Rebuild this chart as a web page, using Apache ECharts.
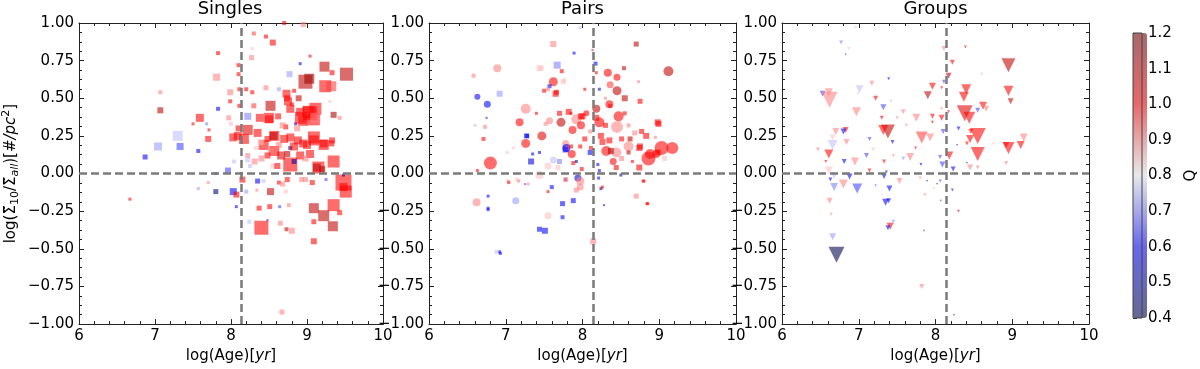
<!DOCTYPE html>
<html>
<head>
<meta charset="utf-8">
<script src="https://cdn.jsdelivr.net/npm/echarts@6/dist/echarts.min.js"></script>
<style>
html,body{margin:0;padding:0;background:#fff}
#chart{width:1200px;height:369px}
</style>
</head>
<body>
<div id="chart"></div>
<script>
// each point: [log(Age), log(Sigma10/Sigma_all), marker size, Q]
var singles = [
  [8.70,1.00,4,1.0],[8.95,0.99,5,0.9],[8.30,0.93,4,0.95],[8.46,0.91,4,1.0],[8.55,0.87,6,1.0],
  [7.83,0.80,4,1.0],[8.28,0.83,3,0.85],[8.27,0.77,5,0.9],[9.04,0.78,3,1.0],[8.91,0.73,3,0.6],
  [8.10,0.72,4,1.0],[9.23,0.71,10,1.1],[9.33,0.67,5,1.0],[9.52,0.66,13,1.1],[8.77,0.66,6,0.72],
  [7.81,0.64,7,0.9],[8.10,0.66,4,1.0],[8.98,0.61,14,1.1],[9.03,0.63,10,1.15],[9.24,0.58,12,1.0],
  [9.32,0.58,10,0.95],[8.20,0.56,4,1.0],[8.28,0.54,4,1.0],[8.46,0.57,5,0.9],[8.63,0.56,4,0.72],
  [8.73,0.53,8,1.0],[8.83,0.55,4,1.0],[7.99,0.54,6,0.9],[8.11,0.56,4,1.0],[7.07,0.54,4,0.9],
  [7.07,0.42,6,1.1],[8.89,0.50,6,1.1],[8.75,0.48,8,1.0],[8.52,0.45,10,1.1],[7.99,0.48,4,1.0],
  [8.11,0.45,4,1.0],[7.83,0.43,4,0.6],[8.22,0.38,7,0.7],[8.80,0.46,4,1.0],[9.11,0.43,12,1.0],
  [9.04,0.40,14,1.0],[8.91,0.41,8,1.0],[9.35,0.39,6,1.15],[9.43,0.37,4,0.9],[9.30,0.48,3,0.85],
  [7.59,0.37,8,1.0],[7.97,0.37,5,0.9],[8.38,0.37,8,1.0],[8.50,0.36,8,1.0],[9.09,0.36,12,1.0],
  [7.50,0.33,3,1.0],[7.68,0.33,3,0.7],[8.00,0.33,4,0.85],[8.72,0.31,5,1.0],[8.85,0.33,3,0.6],
  [8.22,0.29,10,1.05],[8.35,0.27,8,1.0],[8.57,0.25,10,1.0],[8.70,0.23,8,1.0],[7.30,0.25,10,0.75],
  [7.70,0.23,6,1.0],[7.71,0.29,3,1.0],[8.03,0.24,8,1.0],[8.17,0.23,10,1.0],[8.43,0.19,10,1.0],
  [8.48,0.23,6,1.0],[9.09,0.22,10,1.0],[9.22,0.19,10,1.0],[9.32,0.20,6,1.0],[7.04,0.18,8,0.72],
  [7.33,0.18,7,0.65],[7.57,0.15,4,0.6],[6.87,0.11,5,0.6],[8.22,0.12,5,0.9],[8.33,0.17,4,0.85],
  [8.57,0.15,10,1.0],[8.78,0.17,4,0.45],[8.78,0.06,14,1.0],[8.83,0.08,5,0.5],[8.91,0.12,8,1.0],
  [9.04,0.13,8,1.0],[9.15,0.04,12,1.0],[9.20,0.03,6,1.1],[9.35,0.08,12,1.0],[8.04,0.08,4,0.75],
  [7.96,0.02,6,0.65],[7.80,0.00,3,0.6],[8.15,-0.04,6,1.0],[8.35,-0.05,5,0.6],[8.43,-0.05,4,0.75],
  [8.63,-0.06,4,1.0],[8.74,-0.04,5,1.0],[8.93,-0.04,5,0.9],[9.48,-0.06,16,1.0],[9.48,-0.09,8,1.0],
  [9.51,-0.12,12,1.0],[9.48,-0.01,3,0.5],[7.70,-0.06,3,0.9],[7.57,-0.10,3,0.72],[7.80,-0.12,5,0.45],
  [8.03,-0.12,7,0.6],[8.07,-0.14,6,1.0],[8.20,-0.12,4,0.72],[8.34,-0.11,3,0.9],[8.52,-0.12,7,1.1],
  [8.72,-0.12,4,0.85],[6.67,-0.17,3,1.0],[8.07,-0.22,3,0.6],[8.37,-0.23,5,1.0],[8.51,-0.22,5,1.0],
  [8.64,-0.22,3,0.65],[8.76,-0.21,4,0.9],[9.09,-0.23,10,1.1],[9.22,-0.28,11,1.1],[9.35,-0.21,12,1.0],
  [9.43,-0.26,5,1.0],[9.09,-0.32,5,1.0],[9.34,-0.35,10,1.1],[8.40,-0.36,14,1.0],[8.24,-0.32,4,0.75],
  [8.65,-0.33,5,0.9],[8.73,-0.37,4,1.1],[8.80,-0.38,6,0.9],[9.09,-0.45,6,1.0],[8.67,-0.92,5,0.9],
  [8.48,-0.31,2,0.55],[8.62,0.38,6,1.0],[8.95,0.35,10,1.0],[8.88,0.22,8,1.0],[8.66,0.12,8,1.05],
  [8.40,0.10,6,0.9],[8.55,0.05,5,0.85],[8.25,0.05,4,0.75],[8.10,0.30,6,1.0],[8.30,0.45,5,0.95],
  [8.95,0.20,8,1.0],[8.09,0.25,8,1.0],[8.50,0.37,10,1.0],[8.56,0.25,8,1.1],[8.68,0.32,6,0.9],
  [8.74,0.50,6,1.0],[8.78,0.43,8,1.0],[8.92,0.37,12,1.0],[9.02,0.41,12,1.0],[9.11,0.37,10,0.9],
  [8.87,0.30,6,0.9],[8.78,0.24,8,1.0],[8.83,0.18,8,1.0],[8.74,0.13,6,1.1],[9.00,0.19,8,1.0],
  [9.09,0.24,12,1.0],[9.22,0.20,8,1.0],[9.33,0.22,6,1.0],[9.13,0.04,8,1.1],[8.98,0.10,6,0.9],
  [8.39,0.21,6,0.85],[8.63,0.19,6,0.9],[8.52,0.15,6,0.9],[8.31,0.08,6,0.9],[8.22,0.09,5,0.75],
  [8.48,0.12,6,1.0],[8.61,0.05,6,1.0],[8.68,-0.07,5,0.9],[8.98,-0.04,5,0.9],[9.07,-0.06,5,1.0],
  [9.25,-0.04,3,0.65]
];

var pairsCircles = [
  [6.89,0.70,8,0.9],[8.33,0.67,8,1.0],[8.45,0.64,7,1.0],[9.12,0.68,10,1.1],[7.62,0.61,9,1.0],
  [8.36,0.59,7,0.95],[8.45,0.55,9,1.1],[6.63,0.51,6,0.6],[6.76,0.46,7,0.6],[7.26,0.43,10,0.9],
  [7.18,0.34,8,1.0],[8.18,0.43,8,1.1],[8.22,0.34,10,1.0],[7.72,0.34,9,1.1],[7.57,0.35,7,0.9],
  [7.92,0.36,10,0.9],[7.98,0.32,8,1.0],[7.87,0.29,8,1.0],[8.47,0.38,10,1.0],[8.45,0.31,12,0.9],
  [7.47,0.25,9,1.05],[7.26,0.20,9,1.0],[8.31,0.15,10,1.0],[8.44,0.14,10,0.9],[8.60,0.18,10,0.9],
  [9.03,0.17,14,1.0],[9.17,0.17,12,1.0],[8.86,0.10,14,1.0],[8.96,0.13,8,1.0],[6.80,0.07,13,1.0],
  [7.62,0.09,7,0.75],[8.40,0.08,7,1.0],[7.94,-0.03,7,0.55],[7.44,-0.01,8,0.85],[6.62,-0.19,8,0.9],
  [7.13,-0.18,7,0.72],[7.97,-0.09,7,0.9],[7.55,-0.28,7,0.85],[7.78,0.20,7,0.9],[8.05,0.40,6,1.0],
  [8.35,0.46,8,1.0],[7.79,0.17,8,0.6],[7.86,0.13,8,1.0],[7.97,-0.05,8,0.9],[7.55,0.05,7,0.85],
  [8.88,0.13,10,1.0]
];

var pairsSquares = [
  [7.97,0.97,3,0.75],[7.62,0.86,6,0.9],[8.70,0.86,5,1.1],[7.89,0.80,3,0.6],[8.13,0.82,2,1.0],
  [6.58,0.65,4,0.9],[7.44,0.70,6,0.85],[7.67,0.72,7,0.7],[7.73,0.68,4,1.0],[8.17,0.73,4,0.6],
  [8.18,0.67,3,1.0],[8.54,0.70,4,1.1],[7.57,0.58,4,0.6],[7.75,0.61,5,0.85],[8.03,0.56,3,1.0],
  [8.22,0.56,3,0.6],[8.73,0.61,3,0.9],[6.92,0.53,6,0.72],[7.50,0.55,4,1.0],[7.65,0.53,6,1.0],
  [8.55,0.50,6,1.1],[8.75,0.48,5,1.0],[6.75,0.37,2,0.6],[7.40,0.40,3,1.0],[7.70,0.40,5,1.0],
  [7.85,0.40,3,1.0],[8.00,0.38,6,1.0],[8.36,0.45,4,1.0],[8.99,0.33,6,1.0],[8.77,0.28,5,1.0],
  [8.68,0.27,5,0.9],[6.73,0.31,4,0.9],[6.71,0.23,4,1.0],[7.27,0.25,5,0.6],[8.03,0.23,5,1.0],
  [8.24,0.25,6,1.0],[8.51,0.23,5,1.0],[8.62,0.23,5,1.1],[8.83,0.25,6,1.0],[8.95,0.24,3,0.9],
  [7.80,0.17,4,0.9],[7.85,0.18,4,1.0],[7.78,0.16,6,0.6],[7.44,0.14,3,0.6],[7.97,0.18,4,1.0],
  [8.11,0.17,4,1.0],[8.74,0.17,6,1.0],[9.07,0.10,5,0.85],[7.33,0.08,6,0.55],[7.70,0.08,5,0.7],
  [7.88,0.07,4,1.0],[7.99,0.03,4,1.0],[8.20,0.06,3,0.6],[8.44,0.04,5,1.0],[8.74,0.04,6,1.0],
  [8.50,-0.01,3,0.5],[8.22,0.02,3,0.6],[7.78,-0.04,3,0.5],[6.63,0.02,3,1.0],[6.77,-0.15,3,0.6],
  [7.60,-0.09,4,0.6],[7.74,-0.20,5,0.6],[7.88,-0.18,5,0.6],[7.92,-0.11,5,0.9],[8.24,-0.10,3,0.5],
  [8.26,-0.09,3,1.0],[8.80,-0.05,3,1.0],[8.70,-0.15,5,0.9],[8.85,-0.20,3,1.0],[8.28,-0.21,2,0.6],
  [6.77,-0.23,3,0.6],[7.74,-0.29,4,0.6],[7.44,-0.37,5,0.6],[7.51,-0.38,6,0.6],[8.14,-0.45,6,0.9],
  [6.92,-0.52,3,0.6],[6.88,-0.52,4,0.75],[7.03,-0.05,3,0.9],[7.15,-0.04,4,0.85],[7.25,-0.07,2,0.65],
  [7.35,0.13,3,0.6],[7.10,0.17,3,0.85],[6.60,0.32,3,0.75],[7.92,0.08,3,0.5],[8.10,0.28,4,0.9],
  [8.30,0.32,5,1.0],[8.55,0.40,4,1.0],[8.65,0.08,3,1.0],[8.60,0.14,4,1.1],[8.35,0.22,6,1.0],
  [7.66,0.54,5,1.0],[7.55,0.56,4,0.9],[7.82,0.41,6,1.0],[7.98,0.38,6,1.0],[8.18,0.37,6,1.0],
  [8.98,0.34,6,1.0],[8.10,0.14,5,0.6],[8.26,0.21,6,1.0],[8.37,0.15,6,1.1],[8.51,0.10,5,0.9],
  [8.75,0.18,6,1.0],[8.98,0.14,6,1.0],[7.68,0.04,5,0.85],[7.78,-0.04,5,0.9],[8.21,-0.03,3,0.6],
  [7.29,-0.07,3,0.9],[7.17,-0.05,3,0.9],[7.04,-0.06,3,1.0],[7.55,-0.12,3,1.0],[6.77,-0.24,3,0.6],
  [6.93,-0.53,3,0.6],[8.79,-0.05,3,1.0],[8.84,-0.20,3,1.0],[7.46,0.70,5,0.85],[7.76,0.62,4,0.85],
  [7.52,0.33,4,0.9],[7.28,0.25,4,0.6],[7.02,0.14,3,0.85],[8.30,0.50,3,0.9],[8.60,0.32,4,0.9]
];

var groups = [
  [6.96,0.97,3,0.85],[6.77,0.87,4,0.7],[6.87,0.83,3,0.85],[6.83,0.79,2,0.6],[8.11,0.83,5,0.9],
  [8.39,0.84,3,1.0],[8.22,0.74,5,1.0],[8.95,0.72,14,1.1],[8.17,0.65,6,1.1],[7.39,0.63,3,0.6],
  [8.11,0.61,4,0.65],[7.17,0.60,5,0.9],[7.96,0.58,7,1.0],[8.08,0.57,3,1.0],[8.40,0.56,10,1.0],
  [8.95,0.55,10,1.0],[7.90,0.52,8,1.1],[8.37,0.51,10,1.0],[8.98,0.48,6,1.1],[6.53,0.53,6,0.65],
  [6.62,0.49,16,0.9],[6.61,0.54,8,0.9],[7.01,0.56,8,0.75],[7.22,0.50,5,1.0],[7.42,0.48,3,0.75],
  [7.32,0.44,6,0.65],[6.97,0.41,9,0.9],[7.58,0.41,5,0.9],[7.75,0.37,8,0.9],[7.96,0.38,5,1.0],
  [8.08,0.37,6,1.0],[8.08,0.43,3,0.9],[8.17,0.41,3,1.0],[8.38,0.40,16,1.05],[8.44,0.37,12,1.0],
  [8.62,0.45,8,1.0],[8.55,0.42,5,0.65],[8.66,0.43,6,0.9],[7.30,0.37,4,1.0],[7.96,0.34,3,1.1],
  [8.10,0.28,5,0.65],[8.30,0.30,4,0.6],[7.38,0.28,14,1.1],[7.32,0.29,10,1.0],[6.83,0.29,6,1.0],
  [6.80,0.28,6,0.6],[6.70,0.28,7,0.9],[6.84,0.21,6,0.9],[6.66,0.24,6,0.85],[7.14,0.23,4,0.65],
  [7.44,0.21,4,0.6],[7.82,0.24,12,0.95],[7.93,0.24,8,0.9],[7.62,0.32,3,0.9],[8.46,0.28,5,1.0],
  [8.55,0.25,16,1.0],[8.45,0.23,8,1.0],[8.41,0.20,4,1.0],[8.28,0.19,2,0.6],[8.95,0.17,12,1.0],
  [8.92,0.19,6,1.0],[9.11,0.19,8,1.0],[9.15,0.24,8,0.9],[8.76,0.20,3,0.85],[6.66,0.19,10,0.75],
  [6.61,0.13,9,1.0],[6.47,0.16,4,0.9],[6.57,0.08,3,1.0],[7.10,0.12,5,0.65],[7.19,0.16,4,0.85],
  [6.95,0.08,8,0.9],[6.81,0.08,5,0.6],[7.33,0.08,4,1.0],[7.45,0.12,3,0.9],[7.58,0.10,4,0.72],
  [7.67,0.11,8,0.9],[7.74,0.17,3,1.0],[7.81,0.06,3,0.6],[8.06,0.11,4,0.65],[8.09,0.06,6,0.65],
  [8.18,0.12,8,1.0],[8.23,0.03,5,0.6],[8.55,0.13,14,1.0],[8.45,0.04,6,0.9],[8.55,0.04,4,0.9],
  [8.41,0.07,2,0.6],[8.92,0.07,4,0.9],[6.61,0.02,8,0.85],[6.68,-0.02,5,0.75],[6.63,-0.04,4,0.6],
  [6.68,-0.09,8,0.7],[6.80,-0.07,9,0.9],[6.88,-0.02,6,0.6],[6.98,-0.10,10,0.65],[7.14,0.02,4,1.0],
  [7.33,-0.02,5,0.6],[7.36,0.01,3,0.6],[7.40,-0.10,6,0.6],[7.53,-0.05,6,0.9],[7.35,-0.19,7,0.6],
  [7.39,-0.18,5,0.6],[7.22,-0.08,2,0.6],[7.30,-0.14,2,0.85],[6.62,-0.18,6,0.9],[6.64,-0.27,3,0.9],
  [7.45,-0.32,4,0.72],[7.41,-0.35,7,1.0],[7.38,-0.36,5,0.6],[6.66,-0.42,7,0.72],[6.71,-0.54,16,0.4],
  [7.82,-0.75,5,0.9],[7.85,-0.38,2,0.6],[7.89,-0.05,2,0.6],[8.02,-0.07,2,0.6],[8.07,-0.18,2,0.6],
  [8.22,-0.11,3,0.6],[8.30,-0.25,3,1.0],[8.24,-0.94,2,0.6],[7.80,-0.03,3,0.9],[7.86,-0.14,3,0.9],
  [7.98,-0.10,2,0.9],[8.06,-0.05,3,0.65],[6.99,0.53,3,0.85],[7.50,0.37,3,0.9],[8.60,0.66,3,0.75]
];

var panelTitles = ['Singles', 'Pairs', 'Groups'];
var xRange = [6, 10];
var yRange = [-1, 1];
var qRange = [0.4, 1.2];
var ageCut = 8.14;

var FONT = 'DejaVu Sans';
var INK = '#222';
// seismic colormap stops
var seismicPts = 'rgba(0,0,77,A)|rgba(0,0,255,A)|rgba(255,255,255,A)|rgba(255,0,0,A)|rgba(128,0,0,A)';
function cmap(a) { return seismicPts.replace(/A/g, a).split('|'); }

var grids = [
  {left: 77, top: 23, width: 306, height: 306},
  {left: 429, top: 23, width: 307, height: 306},
  {left: 782, top: 23, width: 307, height: 306},
  {left: 1133, top: 33, width: 14, height: 285, show: true, z: 10,
   borderColor: '#444', borderWidth: 1, backgroundColor: 'transparent'}
];

function fmtY(v) {
  return (v < 0 ? '\u2212' : '') + Math.abs(v).toFixed(2);
}

var xAxes = [], yAxes = [];
for (var g = 0; g < 3; g++) {
  var line = {show: true, onZero: false, lineStyle: {color: INK, width: 1}};
  var tick = {show: true, inside: true, length: 5, lineStyle: {color: INK}};
  xAxes.push({
    gridIndex: g, type: 'value', min: xRange[0], max: xRange[1], interval: 1, position: 'bottom',
    name: '{a|log(Age)[}{i|yr}{a|]}', nameLocation: 'middle', nameGap: 24,
    nameTextStyle: {rich: {a: {fontFamily: FONT, fontSize: 15, color: '#000'},
                           i: {fontFamily: FONT, fontSize: 15, fontStyle: 'italic', color: '#000'}}},
    axisLine: line, axisTick: tick,
    minorTick: {show: true, splitNumber: 5, length: 3, lineStyle: {color: INK}},
    axisLabel: {fontFamily: FONT, fontSize: 15, color: '#000', margin: 5},
    splitLine: {show: false}
  });
  xAxes.push({
    gridIndex: g, type: 'value', min: xRange[0], max: xRange[1], interval: 1, position: 'top',
    axisLine: line, axisTick: tick,
    minorTick: {show: true, splitNumber: 5, length: 3, lineStyle: {color: INK}},
    axisLabel: {show: false}, splitLine: {show: false}
  });
  var yl = {
    gridIndex: g, type: 'value', min: yRange[0], max: yRange[1], interval: 0.25, position: 'left',
    axisLine: line, axisTick: tick,
    minorTick: {show: true, splitNumber: 4, length: 3, lineStyle: {color: INK}},
    axisLabel: {fontFamily: FONT, fontSize: 15, color: '#000', margin: 5, formatter: fmtY},
    splitLine: {show: false}
  };
  if (g === 0) {
    yl.name = '{n|log(\u03A3\u0303}{s|10}{n|/\u03A3\u0303}{si|all}{n|)[}{i|#/pc}{sup|2}{n|]}';
    yl.nameLocation = 'middle';
    yl.nameRotate = 90;
    yl.nameGap = 58;
    yl.nameTextStyle = {rich: {
      n: {fontFamily: FONT, fontSize: 15, color: '#000', lineHeight: 20},
      i: {fontFamily: FONT, fontSize: 15, fontStyle: 'italic', color: '#000', lineHeight: 20},
      s: {fontFamily: FONT, fontSize: 11, color: '#000', verticalAlign: 'bottom', lineHeight: 11},
      si: {fontFamily: FONT, fontSize: 11, fontStyle: 'italic', color: '#000', verticalAlign: 'bottom', lineHeight: 11},
      sup: {fontFamily: FONT, fontSize: 11, color: '#000', verticalAlign: 'top', lineHeight: 11}
    }};
  }
  yAxes.push(yl);
  yAxes.push({
    gridIndex: g, type: 'value', min: yRange[0], max: yRange[1], interval: 0.25, position: 'right',
    axisLine: line, axisTick: tick,
    minorTick: {show: true, splitNumber: 4, length: 3, lineStyle: {color: INK}},
    axisLabel: {show: false}, splitLine: {show: false}
  });
}
// colorbar axes
xAxes.push({gridIndex: 3, type: 'value', min: 0, max: 1, show: false});
yAxes.push({
  gridIndex: 3, type: 'value', min: qRange[0], max: qRange[1], interval: 0.1, position: 'right',
  name: 'Q', nameLocation: 'middle', nameRotate: 90, nameGap: 42,
  nameTextStyle: {fontFamily: FONT, fontSize: 15, color: '#000'},
  axisLine: {show: false},
  axisTick: {show: true, inside: false, length: 4, lineStyle: {color: INK}},
  axisLabel: {fontFamily: FONT, fontSize: 15, color: '#000', margin: 6,
              formatter: function (v) { return v.toFixed(1); }},
  splitLine: {show: false}
});

function sizeOf(v) { return v[2]; }

function scatter(data, g, symbol, rot) {
  return {
    type: 'scatter', data: data, xAxisIndex: 2 * g, yAxisIndex: 2 * g,
    symbol: symbol, symbolRotate: rot || 0, symbolSize: sizeOf,
    itemStyle: {borderWidth: 0}, silent: true
  };
}

function cutLines(g) {
  return {
    type: 'scatter', data: [], xAxisIndex: 2 * g, yAxisIndex: 2 * g, z: 5,
    markLine: {
      silent: true, symbol: 'none', label: {show: false},
      lineStyle: {color: '#7a7a7a', width: 2.5, type: [8, 4]},
      data: [{xAxis: ageCut}, {yAxis: 0}]
    }
  };
}

var series = [
  scatter(singles, 0, 'rect'),
  scatter(pairsCircles, 1, 'circle'),
  scatter(pairsSquares, 1, 'rect'),
  scatter(groups, 2, 'triangle', 180),
  cutLines(0), cutLines(1), cutLines(2),
  {type: 'scatter', data: [], xAxisIndex: 6, yAxisIndex: 6}
];

var titles = panelTitles.map(function (t, i) {
  return {
    text: t, left: grids[i].left + grids[i].width / 2, top: 0, textAlign: 'center', padding: 0,
    textStyle: {fontFamily: FONT, fontSize: 18, fontWeight: 'normal', color: '#000'}
  };
});

var chart = echarts.init(document.getElementById('chart'), null, {renderer: 'canvas'});
chart.setOption({
  animation: false,
  backgroundColor: '#fff',
  title: titles,
  grid: grids,
  xAxis: xAxes,
  yAxis: yAxes,
  visualMap: {
    type: 'continuous', min: qRange[0], max: qRange[1], dimension: 3,
    seriesIndex: [0, 1, 2, 3], calculable: false, realtime: false,
    left: 1133, top: 33, itemWidth: 14, itemHeight: 285, padding: 0,
    text: null, showLabel: false, hoverLink: false,
    inRange: {color: cmap(0.72)},
    controller: {inRange: {color: cmap(0.5)}}
  },
  series: series
});
</script>
</body>
</html>
